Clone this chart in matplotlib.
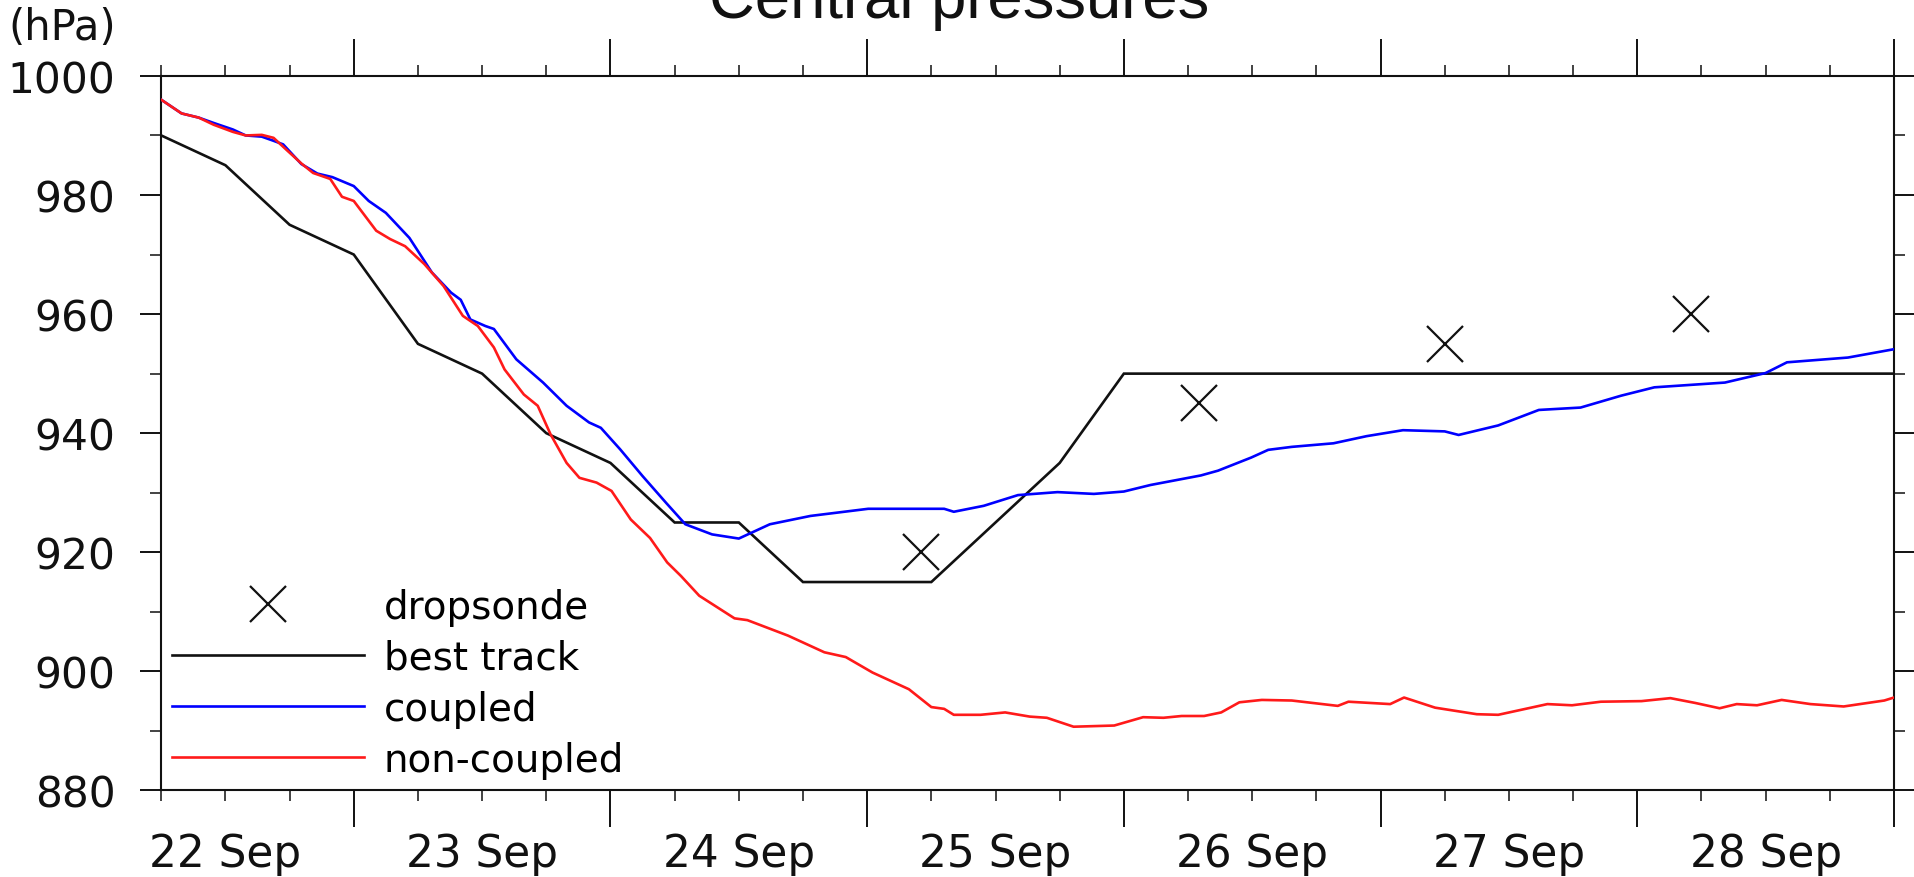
import matplotlib
matplotlib.use("Agg")
import matplotlib.pyplot as plt
from matplotlib.lines import Line2D
from matplotlib.transforms import blended_transform_factory

# ---- data: hours since 22 Sep 06 UTC, central pressure in hPa ----
best_hours = [0, 6, 12, 18, 24, 30, 36, 42, 48, 54, 60, 66, 72, 78, 84, 90,
              96, 102, 108, 114, 120, 126, 132, 138, 144, 150, 156, 162]
best_track = [990, 985, 975, 970, 955, 950, 940, 935, 925, 925, 915, 915, 915,
              925, 935, 950, 950, 950, 950, 950, 950, 950, 950, 950, 950, 950,
              950, 950]

sonde_hours = [71, 97, 120, 143]
dropsonde = [920, 945, 955, 960]

coupled_hours = [0, 1.9, 3.5, 4.9, 6.7, 7.9, 9.4, 10.5, 11.4, 13.1, 14.6, 16.0,
                 18.0, 19.4, 21.0, 23.2, 25.3, 27.1, 28.0, 28.9, 30.3, 31.1,
                 33.2, 35.7, 37.9, 40.0, 41.1, 42.9, 45.0, 47.2, 49.0, 51.5,
                 54.0, 56.9, 60.7, 66.1, 69.1, 73.2, 74.1, 76.9, 80.1, 83.8,
                 87.2, 90.0, 92.5, 97.2, 98.8, 101.9, 103.5, 105.7, 109.6,
                 112.7, 116.1, 120.0, 121.3, 125.0, 128.8, 132.7, 136.5, 139.6,
                 146.2, 150.0, 152.0, 157.7, 162.0]
coupled = [996.0, 993.7, 993.0, 992.1, 991.0, 990.0, 989.8, 989.1, 988.5, 985.2,
           983.6, 983.0, 981.5, 979.0, 977.0, 972.8, 967.0, 963.6, 962.4, 959.1,
           958.0, 957.5, 952.4, 948.5, 944.6, 941.8, 940.9, 937.3, 932.8, 928.3,
           924.7, 923.0, 922.3, 924.7, 926.1, 927.3, 927.3, 927.3, 926.8, 927.8,
           929.6, 930.1, 929.8, 930.2, 931.3, 932.9, 933.7, 935.9, 937.2, 937.7,
           938.3, 939.5, 940.5, 940.3, 939.7, 941.3, 943.9, 944.3, 946.3, 947.7,
           948.5, 950.1, 951.9, 952.7, 954.1]

noncoupled_hours = [0, 1.9, 3.5, 4.9, 6.7, 7.9, 9.4, 10.5, 11.7, 13.1, 14.2,
                    15.8, 16.9, 18.0, 20.1, 21.4, 22.8, 24.6, 26.4, 28.2, 29.6,
                    31.1, 32.1, 33.9, 35.2, 36.4, 37.9, 39.1, 40.7, 42.1, 43.9,
                    45.7, 47.3, 48.6, 50.3, 53.6, 54.8, 58.6, 62.0, 64.0, 66.5,
                    69.9, 72.0, 73.2, 74.1, 76.6, 78.9, 81.2, 82.8, 85.3, 89.1,
                    91.8, 93.7, 95.4, 97.5, 99.1, 100.8, 102.9, 105.7, 110.0,
                    111.0, 114.9, 116.2, 119.1, 123.0, 125.0, 129.6, 131.9,
                    134.6, 138.4, 141.1, 143.4, 145.7, 147.3, 149.2, 151.5,
                    154.2, 157.3, 161.1, 162.0]
noncoupled = [996.0, 993.7, 993.0, 991.8, 990.6, 990.0, 990.1, 989.6, 987.6,
              985.3, 983.7, 982.7, 979.7, 979.0, 974.0, 972.6, 971.4, 968.4,
              964.7, 959.7, 958.0, 954.4, 950.7, 946.5, 944.6, 939.8, 935.0,
              932.5, 931.7, 930.3, 925.5, 922.4, 918.3, 916.0, 912.7, 908.9,
              908.6, 906.0, 903.2, 902.4, 899.8, 897.0, 894.0, 893.7, 892.7,
              892.7, 893.1, 892.4, 892.2, 890.7, 890.9, 892.3, 892.2, 892.5,
              892.5, 893.1, 894.8, 895.2, 895.1, 894.2, 894.9, 894.5, 895.6,
              893.9, 892.8, 892.7, 894.5, 894.3, 894.9, 895.0, 895.5, 894.7,
              893.8, 894.5, 894.3, 895.2, 894.5, 894.1, 895.1, 895.6]

day_label_hours = [6, 30, 54, 78, 102, 126, 150]
day_labels = ["22 Sep", "23 Sep", "24 Sep", "25 Sep", "26 Sep", "27 Sep", "28 Sep"]
day_start_hours = [18, 42, 66, 90, 114, 138, 162]
six_hour_marks = list(range(0, 163, 6))
p_major = [880, 900, 920, 940, 960, 980, 1000]
p_minor = list(range(880, 1001, 10))

# ---- figure ----
DPI = 100
fig = plt.figure(figsize=(19.15, 8.78), dpi=DPI)
ax = fig.add_axes([0.0842, 0.0986, 0.9048, 0.8138])

FONT = "DejaVu Sans"
INK = "#111111"

ax.plot(best_hours, best_track, color=INK, lw=1.9, label="best track",
        solid_joinstyle="miter", zorder=3)
ax.plot(coupled_hours, coupled, color="#0000ff", lw=1.9, label="coupled", zorder=4)
ax.plot(noncoupled_hours, noncoupled, color="#ff1a1a", lw=1.9,
        label="non-coupled", zorder=4)
ax.plot(sonde_hours, dropsonde, linestyle="none", marker="x", ms=26, mew=1.6,
        color=INK, zorder=5)

ax.set_xlim(0, 162)
ax.set_ylim(880, 1000)

ax.set_xticks(day_start_hours)
ax.set_xticks(six_hour_marks, minor=True)
ax.set_xticklabels([])
ax.set_yticks(p_major)
ax.set_yticks(p_minor, minor=True)
ax.set_yticklabels([str(v) for v in p_major], fontsize=30.5, family=FONT)

for s in ax.spines.values():
    s.set_linewidth(1.5)
    s.set_color(INK)

ax.tick_params(axis="x", which="major", direction="out", length=26.5,
               width=1.4, top=True, bottom=True, color=INK)
ax.tick_params(axis="x", which="minor", direction="out", length=8,
               width=1.2, top=True, bottom=True, color="#222222")
ax.tick_params(axis="y", which="major", direction="out", length=14.8,
               width=1.4, left=True, right=True, pad=18, color=INK,
               labelcolor=INK)
ax.tick_params(axis="y", which="minor", direction="out", length=7.7,
               width=1.2, left=True, right=True, color="#222222")

# day names centred on each day (12 UTC)
trans = blended_transform_factory(ax.transData, ax.transAxes)
for h, lab in zip(day_label_hours, day_labels):
    ax.text(h, -0.1058, lab, transform=trans, ha="center", va="baseline",
            fontsize=31.5, family=FONT, color=INK)

# legend
handles = [
    Line2D([], [], linestyle="none", marker="x", ms=26, mew=1.6, color=INK),
    Line2D([], [], color=INK, lw=1.9),
    Line2D([], [], color="#0000ff", lw=1.9),
    Line2D([], [], color="#ff1a1a", lw=1.9),
]
labels = ["dropsonde", "best track", "coupled", "non-coupled"]
leg = ax.legend(handles, labels, loc="center left",
                bbox_to_anchor=(0.006, 0.150), frameon=False, borderpad=0,
                borderaxespad=0, handlelength=4.95, handletextpad=0.5,
                labelspacing=0.33, numpoints=1,
                prop={"family": FONT, "size": 28})

fig.text(0.5008, 1 - 18.3 / 878, "Central pressures", ha="center",
         va="baseline", fontsize=45.6, family="Liberation Sans", color=INK)
fig.text(62.5 / 1915, 1 - 28 / 878, "(hPa)", ha="center", va="center",
         fontsize=30, family=FONT, color=INK)

fig.savefig("out.png", dpi=DPI)
